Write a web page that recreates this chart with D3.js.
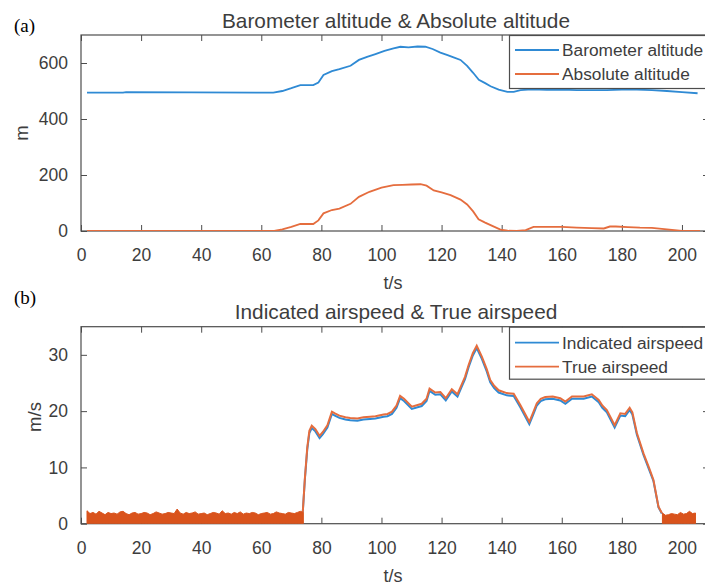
<!DOCTYPE html>
<html><head><meta charset="utf-8">
<script src="https://cdn.jsdelivr.net/npm/d3@7"></script>
<style>body{margin:0;background:#fff}svg{display:block}</style>
</head><body>
<script>
// ---------- DATA ----------
const xTicks = [0,20,40,60,80,100,120,140,160,180,200];
const altTicks = [0,200,400,600];
const spdTicks = [0,10,20,30];

const baroT = [2,14,15,64,67,70,73,77.3,79,80.7,83.5,86,89.7,92.5,95.2,98,101,104,106.3,109,112,114.6,117,119.6,122,124,126.3,128.5,130.5,132.4,134.5,136.3,139,141.9,144,146.3,150,155,160,165,170,175,180,185,190,195,200,205.2];
const baroV = [494,494,496,494,500,510,521,521,530,557,571,578,590,611,622,632,643,652,658,656,659,658,650,637,628,620,611,590,565,540,528,517,505,497,497,503,506,504,505,503,503,503,505,505,503,500,496,492];

const absT = [2,64.3,67,70,73,77.3,79,80.7,83.5,86,89.7,92.5,96,100,104,107,110,113,115,117.4,120,123,126.3,128.5,130.5,132.3,134.5,136.5,139.6,142,145,148,150.6,155,160,165,170,174,176,178,182,186,190,195,200,206];
const absV = [0,0,6,15,25,25,38,63,75,80,97,122,140,155,164,165,166,167,162,145,138,128,112,95,70,42,30,20,5,1,0,3,15,15,15,12,10,9,16,16,14,12,11,6,0,0];

const spdT = [73.8,74.5,75.3,76,76.8,78,79.4,80.5,82,83.5,84.5,86,88,89.6,92,94,96.2,98,100.7,102,103.5,105,106.2,107.5,110.1,113.4,115,116,117.9,119.6,121.4,123.4,125.3,126.5,127.8,129,130.4,131.7,133.4,135,136.2,137.5,139,141.7,144,146.2,149.2,150.5,151.7,153,154.5,157,159.5,161.2,163.4,165,167.3,170,172.3,173.5,175,177.6,179.5,181.1,182.6,183.5,185,187.2,189,190.5,192.2,193.3];
const tasV = [2,8,13.5,16.5,17.4,16.8,15.6,16.3,17.5,19.9,19.6,19.2,18.9,18.8,18.7,18.9,19.0,19.1,19.4,19.5,19.9,21.0,22.7,22.2,20.8,21.3,22.2,24.0,23.3,23.4,22.3,23.9,23.0,24.5,26.1,28.2,30.3,31.6,29.7,27.5,25.5,24.5,23.7,23.2,23.1,21.1,18.1,19.8,21.4,22.2,22.5,22.6,22.3,21.7,22.6,22.6,22.6,23.0,22.0,21.0,20.2,17.5,19.6,19.5,20.6,19.8,16.1,12.5,10,7.8,3.0,1.9];
const iasV = [2,7.8,13.2,16.1,17.0,16.4,15.2,15.9,17.1,19.5,19.2,18.8,18.5,18.4,18.3,18.5,18.6,18.7,19.0,19.1,19.5,20.6,22.3,21.8,20.4,20.9,21.8,23.6,22.9,23.0,21.9,23.5,22.6,24.1,25.7,27.8,29.9,31.2,29.3,27.1,25.1,24.1,23.3,22.8,22.7,20.7,17.7,19.4,21.0,21.8,22.1,22.2,21.9,21.3,22.2,22.2,22.2,22.6,21.6,20.6,19.8,17.1,19.2,19.1,20.2,19.4,15.8,12.2,9.7,7.6,2.9,1.8];

// ground noise envelope (upper edge of the dense noise band), one value per second
const noiseStartT = 2;
const noiseHi = [2.3,1.8,2.0,1.7,2.2,1.9,1.6,2.0,1.8,1.9,1.7,2.1,2.2,1.8,1.6,1.9,2.0,1.7,1.8,2.0,1.9,1.6,1.8,2.1,1.9,1.7,1.8,2.0,1.9,1.8,2.6,1.9,1.7,2.0,1.8,1.9,2.1,1.7,1.8,1.9,1.6,1.8,2.0,1.9,1.7,2.3,1.8,1.9,1.7,2.0,1.8,2.1,1.7,1.9,1.8,2.0,1.9,1.6,1.8,1.9,2.0,1.7,1.8,2.1,1.9,1.8,1.7,2.0,1.9,1.8,2.0,2.2,2.0];
const noiseEndStartT = 193.5;
const noiseEndHi = [1.9,1.5,1.6,1.8,1.7,1.6,2.0,1.7,1.8,2.2,1.8,1.9];

const titles = ["Barometer altitude & Absolute altitude","Indicated airspeed & True airspeed"];
const legA = ["Barometer altitude","Absolute altitude"];
const legB = ["Indicated airspeed","True airspeed"];

// ---------- DRAW ----------
const W=705,H=586;
const blue="#2f8ad4", orange="#e56d3e", noiseCol="#d9531c";
const axCol="#4d4d4d", txtCol="#3d3d3d";
const font="Arial, 'Liberation Sans', sans-serif";
const svg=d3.select("body").append("svg").attr("width",W).attr("height",H);
svg.append("rect").attr("width",W).attr("height",H).attr("fill","#fff");

const x=d3.scaleLinear().domain([0,209]).range([81,709]);

function panel(cfg){
  const y=d3.scaleLinear().domain(cfg.ydom).range(cfg.yr);
  const g=svg.append("g");
  const top=cfg.yr[1], bot=cfg.yr[0];
  const cid="clip"+cfg.id;
  svg.append("clipPath").attr("id",cid).append("rect")
    .attr("x",81).attr("y",top).attr("width",628).attr("height",bot-top);
  const ax=(gen,tr)=>{const a=g.append("g").attr("transform",tr).call(gen);
    a.select(".domain").remove();
    a.selectAll("line").attr("stroke",axCol);
    a.selectAll("text").attr("fill",txtCol).style("font-family",font).style("font-size","17.5px");
    return a;};
  const xb=ax(d3.axisBottom(x).tickValues(xTicks).tickSize(-6),`translate(0,${bot})`);
  xb.selectAll("text").attr("y",24).attr("dy","0.35em");
  ax(d3.axisTop(x).tickValues(xTicks).tickSize(-6).tickFormat(""),`translate(0,${top})`);
  ax(d3.axisLeft(y).tickValues(cfg.yticks).tickSize(-6).tickPadding(13),`translate(81,0)`);
  ax(d3.axisRight(y).tickValues(cfg.yticks).tickSize(-6).tickFormat(""),`translate(709,0)`);
  g.append("rect").attr("x",81).attr("y",top).attr("width",628).attr("height",bot-top)
    .attr("fill","none").attr("stroke",axCol).attr("stroke-width",1.2);
  const dg=svg.append("g").attr("clip-path",`url(#${cid})`);
  cfg.draw(dg,y);
  // labels
  svg.append("text").attr("x",396).attr("y",top-7.5).attr("text-anchor","middle")
    .attr("fill",txtCol).style("font-family",font).style("font-size","20.8px").text(cfg.title);
  svg.append("text").attr("x",393).attr("y",bot+58).attr("text-anchor","middle")
    .attr("fill",txtCol).style("font-family",font).style("font-size","18px").text("t/s");
  svg.append("text").attr("transform",`translate(${cfg.ylx},${cfg.ylc}) rotate(-90)`)
    .attr("text-anchor","middle").attr("dy","0.35em")
    .attr("fill",txtCol).style("font-family",font).style("font-size","18.5px").text(cfg.ylabel);
  svg.append("text").attr("x",14).attr("y",cfg.tagY)
    .attr("fill","#000").style("font-family","'Liberation Serif','Times New Roman',serif").style("font-size","19px").text(cfg.tag);
  // legend
  const lg=svg.append("g");
  lg.append("rect").attr("x",509.5).attr("y",top+0.5).attr("width",220).attr("height",cfg.legH)
    .attr("fill","#fff").attr("stroke",axCol).attr("stroke-width",1.2);
  cfg.leg.forEach((s,i)=>{
    const yy=top+cfg.legR[i];
    lg.append("line").attr("x1",515).attr("x2",559).attr("y1",yy).attr("y2",yy)
      .attr("stroke",[blue,orange][i]).attr("stroke-width",1.8);
    lg.append("text").attr("x",562).attr("y",yy).attr("dy","0.35em")
      .attr("fill",txtCol).style("font-family",font).style("font-size","17.3px").text(s);
  });
}

const line=(y)=>d3.line().x(d=>x(d[0])).y(d=>y(d[1]));

panel({id:"a",ydom:[0,700],yr:[231,35],yticks:altTicks,title:titles[0],ylabel:"m",ylx:22,ylc:133,
  tag:"(a)",tagY:32,leg:legA,legH:53,legR:[15,39],
  draw:(g,y)=>{
    g.append("path").datum(baroT.map((t,i)=>[t,baroV[i]])).attr("d",line(y))
      .attr("fill","none").attr("stroke",blue).attr("stroke-width",1.8);
    g.append("path").datum(absT.map((t,i)=>[t,absV[i]])).attr("d",line(y))
      .attr("fill","none").attr("stroke",orange).attr("stroke-width",1.8);
  }});

panel({id:"b",ydom:[0,35],yr:[523.7,326.7],yticks:spdTicks,title:titles[1],ylabel:"m/s",ylx:35,ylc:417,
  tag:"(b)",tagY:304,leg:legB,legH:52,legR:[16,40],
  draw:(g,y)=>{
    const area=d3.area().x(d=>x(d[0])).y0(y(0)).y1(d=>y(d[1]));
    const n1=noiseHi.map((v,i)=>[noiseStartT+i,v]);
    const n2=noiseEndHi.map((v,i)=>[noiseEndStartT+i,v]);
    g.append("path").datum(spdT.map((t,i)=>[t,iasV[i]])).attr("d",line(y))
      .attr("fill","none").attr("stroke",blue).attr("stroke-width",2);
    g.append("path").datum(spdT.map((t,i)=>[t,tasV[i]])).attr("d",line(y))
      .attr("fill","none").attr("stroke",orange).attr("stroke-width",2);
    [n1,n2].forEach(n=>g.append("path").datum(n).attr("d",area)
      .attr("fill",noiseCol).attr("stroke",noiseCol).attr("stroke-width",1));
  }});
</script>
</body></html>
